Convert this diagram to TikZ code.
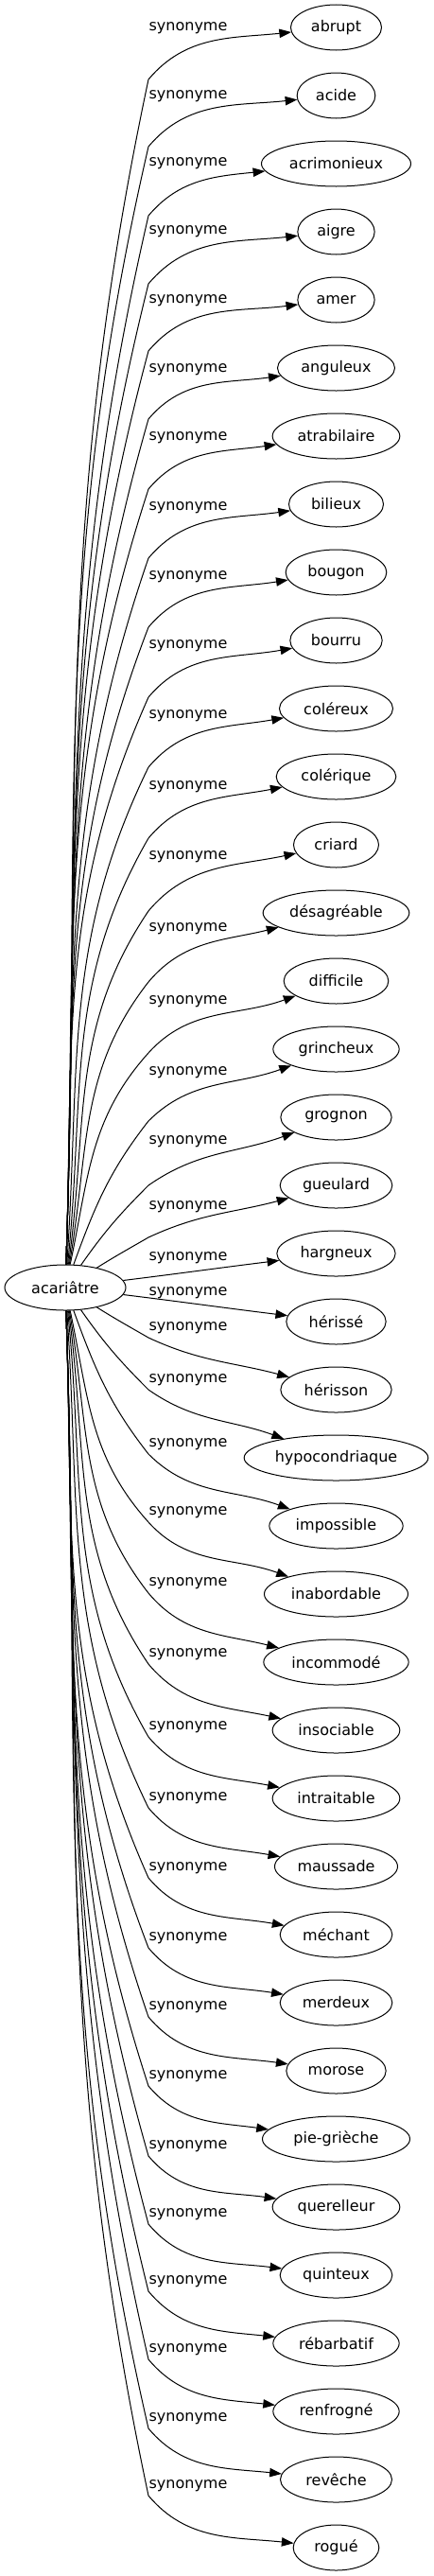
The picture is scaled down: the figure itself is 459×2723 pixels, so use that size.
\documentclass[tikz,border=0pt]{standalone}
\usepackage{fontspec}
\setmainfont{DejaVu Sans}
\usetikzlibrary{arrows.meta,shapes.geometric}

\begin{document}
\begin{tikzpicture}[x=0.75pt,y=0.75pt]
        \tikzstyle{every node}+=[inner sep=0pt, font=\fontsize{12}{14}\selectfont]
        \tikzstyle{word}=[draw, ellipse, line width=0.75pt, minimum height=36pt]
        \tikzstyle{link}=[draw, line width=0.75pt, -{Triangle[length=9.5pt,width=7pt]}]
        \useasboundingbox (0,0) rectangle (459,-2723);
        \node [word, minimum width=96pt] (acariatre) at (69,-1361) {acariâtre};
        \node [word, minimum width=72pt] (abrupt) at (355.5,-29) {abrupt};
        \node [word, minimum width=62pt] (acide) at (355.5,-101) {acide};
        \node [word, minimum width=118.5pt] (acrimonieux) at (355.5,-173) {acrimonieux};
        \node [word, minimum width=61pt] (aigre) at (355.5,-245) {aigre};
        \node [word, minimum width=61pt] (amer) at (355.5,-317) {amer};
        \node [word, minimum width=93pt] (anguleux) at (355.5,-389) {anguleux};
        \node [word, minimum width=101pt] (atrabilaire) at (355.5,-461) {atrabilaire};
        \node [word, minimum width=75pt] (bilieux) at (355.5,-533) {bilieux};
        \node [word, minimum width=80pt] (bougon) at (355.5,-605) {bougon};
        \node [word, minimum width=73pt] (bourru) at (355.5,-677) {bourru};
        \node [word, minimum width=90pt] (colereux) at (355.5,-749) {coléreux};
        \node [word, minimum width=95pt] (colerique) at (355.5,-821) {colérique};
        \node [word, minimum width=67.5pt] (criard) at (355.5,-893) {criard};
        \node [word, minimum width=116pt] (desagreable) at (355.5,-965) {désagréable};
        \node [word, minimum width=83pt] (difficile) at (355.5,-1037) {difficile};
        \node [word, minimum width=100pt] (grincheux) at (355.5,-1109) {grincheux};
        \node [word, minimum width=88pt] (grognon) at (355.5,-1181) {grognon};
        \node [word, minimum width=89pt] (gueulard) at (355.5,-1253) {gueulard};
        \node [word, minimum width=94pt] (hargneux) at (355.5,-1325) {hargneux};
        \node [word, minimum width=79pt] (herisse) at (355.5,-1397) {hérissé};
        \node [word, minimum width=88pt] (herisson) at (355.5,-1469) {hérisson};
        \node [word, minimum width=146pt] (hypocondriaque) at (355.5,-1541) {hypocondriaque};
        \node [word, minimum width=106pt] (impossible) at (355.5,-1613) {impossible};
        \node [word, minimum width=114pt] (inabordable) at (355.5,-1685) {inabordable};
        \node [word, minimum width=115pt] (incommode) at (355.5,-1757) {incommodé};
        \node [word, minimum width=101pt] (insociable) at (355.5,-1829) {insociable};
        \node [word, minimum width=101pt] (intraitable) at (355.5,-1901) {intraitable};
        \node [word, minimum width=97.5pt] (maussade) at (355.5,-1973) {maussade};
        \node [word, minimum width=89pt] (mechant) at (355.5,-2045) {méchant};
        \node [word, minimum width=89pt] (merdeux) at (355.5,-2117) {merdeux};
        \node [word, minimum width=79pt] (morose) at (355.5,-2189) {morose};
        \node [word, minimum width=117pt] (piegrieche) at (355.5,-2261) {pie-grièche};
        \node [word, minimum width=101pt] (querelleur) at (355.5,-2333) {querelleur};
        \node [word, minimum width=89pt] (quinteux) at (355.5,-2405) {quinteux};
        \node [word, minimum width=100pt] (rebarbatif) at (355.5,-2477) {rébarbatif};
        \node [word, minimum width=100pt] (renfrogne) at (355.5,-2549) {renfrogné};
        \node [word, minimum width=88.5pt] (reveche) at (355.5,-2621) {revêche};
        \node [word, minimum width=68pt] (rogue) at (355.5,-2693) {rogué};
        % edge labels
        \node (lab0) at (199,-30) {synonyme};
        \node (lab1) at (199,-102) {synonyme};
        \node (lab2) at (199,-173) {synonyme};
        \node (lab3) at (199,-245) {synonyme};
        \node (lab4) at (199,-318) {synonyme};
        \node (lab5) at (199,-391) {synonyme};
        \node (lab6) at (199,-463) {synonyme};
        \node (lab7) at (199,-537) {synonyme};
        \node (lab8) at (199,-610) {synonyme};
        \node (lab9) at (199,-683) {synonyme};
        \node (lab10) at (199,-757) {synonyme};
        \node (lab11) at (199,-832) {synonyme};
        \node (lab12) at (199,-906) {synonyme};
        \node (lab13) at (199,-982) {synonyme};
        \node (lab14) at (199,-1059) {synonyme};
        \node (lab15) at (199,-1134) {synonyme};
        \node (lab16) at (199,-1207) {synonyme};
        \node (lab17) at (199,-1276) {synonyme};
        \node (lab18) at (199,-1330) {synonyme};
        \node (lab19) at (199,-1367) {synonyme};
        \node (lab20) at (199,-1404) {synonyme};
        \node (lab21) at (199,-1459) {synonyme};
        \node (lab22) at (199,-1527) {synonyme};
        \node (lab23) at (199,-1599) {synonyme};
        \node (lab24) at (199,-1674) {synonyme};
        \node (lab25) at (199,-1749) {synonyme};
        \node (lab26) at (199,-1826) {synonyme};
        \node (lab27) at (199,-1901) {synonyme};
        \node (lab28) at (199,-1975) {synonyme};
        \node (lab29) at (199,-2049) {synonyme};
        \node (lab30) at (199,-2122) {synonyme};
        \node (lab31) at (199,-2195) {synonyme};
        \node (lab32) at (199,-2269) {synonyme};
        \node (lab33) at (199,-2341) {synonyme};
        \node (lab34) at (199,-2412) {synonyme};
        \node (lab35) at (199,-2484) {synonyme};
        \node (lab36) at (199,-2557) {synonyme};
        \node (lab37) at (199,-2628) {synonyme};
        % edges, upper half
        \draw [link] (acariatre) to [out=88,in=258] (157,-84) to [out=50,in=186] (abrupt);
        \draw [link] (acariatre) to [out=88,in=257] (157,-155) to [out=50,in=186] (acide);
        \draw [link] (acariatre) to [out=88,in=257] (157,-228) to [out=50,in=186] (acrimonieux);
        \draw [link] (acariatre) to [out=88,in=256] (157,-300) to [out=50,in=186] (aigre);
        \draw [link] (acariatre) to [out=88,in=255] (157,-371) to [out=50,in=187] (amer);
        \draw [link] (acariatre) to [out=88,in=254] (157,-443) to [out=50,in=188] (anguleux);
        \draw [link] (acariatre) to [out=88,in=252] (157,-517) to [out=50,in=188] (atrabilaire);
        \draw [link] (acariatre) to [out=88,in=251] (157,-590) to [out=50,in=188] (bilieux);
        \draw [link] (acariatre) to [out=88,in=249] (157,-663) to [out=50,in=189] (bougon);
        \draw [link] (acariatre) to [out=88,in=246] (157,-737) to [out=50,in=190] (bourru);
        \draw [link] (acariatre) to [out=86,in=244] (157,-811) to [out=50,in=190] (colereux);
        \draw [link] (acariatre) to [out=84,in=240] (157,-886) to [out=50,in=191] (colerique);
        \draw [link] (acariatre) to [out=82,in=236] (157,-963) to [out=50,in=192] (criard);
        \draw [link] (acariatre) to [out=80,in=232] (157,-1038) to [out=50,in=194] (desagreable);
        \draw [link] (acariatre) to [out=78,in=228] (157,-1113) to [out=48,in=200] (difficile);
        \draw [link] (acariatre) to [out=70,in=232] (157,-1185) to [out=45,in=200] (grincheux);
        \draw [link] (acariatre) to [out=55,in=225] (157,-1253) to [out=35,in=200] (grognon);
        \draw [link] (acariatre) to [out=32,in=210] (157,-1308) to [out=25,in=195] (gueulard);
        \draw [link] (acariatre) to [out=7,in=187] (hargneux);
        % edges, lower half
        \draw [link] (acariatre) to [out=-7,in=173] (herisse);
        \draw [link] (acariatre) to [out=-32,in=150] (157,-1414) to [out=-25,in=165] (herisson);
        \draw [link] (acariatre) to [out=-55,in=135] (157,-1469) to [out=-35,in=160] (hypocondriaque);
        \draw [link] (acariatre) to [out=-70,in=128] (157,-1537) to [out=-45,in=160] (impossible);
        \draw [link] (acariatre) to [out=-78,in=132] (157,-1609) to [out=-48,in=160] (inabordable);
        \draw [link] (acariatre) to [out=-80,in=128] (157,-1684) to [out=-50,in=166] (incommode);
        \draw [link] (acariatre) to [out=-82,in=124] (157,-1759) to [out=-50,in=168] (insociable);
        \draw [link] (acariatre) to [out=-84,in=120] (157,-1836) to [out=-50,in=169] (intraitable);
        \draw [link] (acariatre) to [out=-86,in=116] (157,-1911) to [out=-50,in=170] (maussade);
        \draw [link] (acariatre) to [out=-88,in=114] (157,-1985) to [out=-50,in=170] (mechant);
        \draw [link] (acariatre) to [out=-88,in=111] (157,-2059) to [out=-50,in=171] (merdeux);
        \draw [link] (acariatre) to [out=-88,in=109] (157,-2132) to [out=-50,in=172] (morose);
        \draw [link] (acariatre) to [out=-88,in=108] (157,-2205) to [out=-50,in=172] (piegrieche);
        \draw [link] (acariatre) to [out=-88,in=106] (157,-2279) to [out=-50,in=172] (querelleur);
        \draw [link] (acariatre) to [out=-88,in=105] (157,-2351) to [out=-50,in=173] (quinteux);
        \draw [link] (acariatre) to [out=-88,in=104] (157,-2422) to [out=-50,in=174] (rebarbatif);
        \draw [link] (acariatre) to [out=-88,in=103] (157,-2494) to [out=-50,in=174] (renfrogne);
        \draw [link] (acariatre) to [out=-88,in=103] (157,-2567) to [out=-50,in=174] (reveche);
        \draw [link] (acariatre) to [out=-88,in=102] (157,-2638) to [out=-50,in=174] (rogue);
\end{tikzpicture}
\end{document}
